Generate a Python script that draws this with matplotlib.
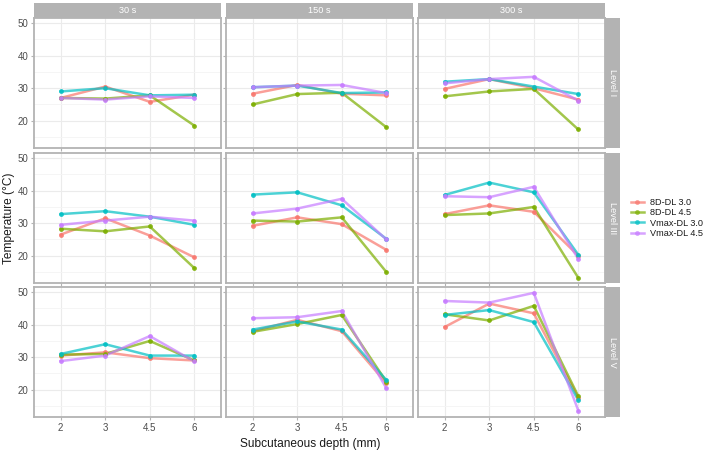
import numpy as np
import matplotlib
matplotlib.use("Agg")
import matplotlib.pyplot as plt
from matplotlib.lines import Line2D

plt.rcParams['font.family'] = ['Liberation Sans', 'DejaVu Sans']

depths = ["2", "3", "4.5", "6"]
times = ["30 s", "150 s", "300 s"]
levels = ["Level I", "Level III", "Level V"]
groups = ["8D-DL 3.0", "8D-DL 4.5", "Vmax-DL 3.0", "Vmax-DL 4.5"]
colors = ["#F8766D", "#7CAE00", "#00BFC4", "#C77CFF"]

# temperature[level][time] -> one list per group
level1_30 = [[27.0, 30.5, 25.8, 28.0], [27.0, 26.8, 27.8, 18.5], [29.0, 30.0, 27.8, 28.0], [27.0, 26.5, 27.5, 27.0]]
level1_150 = [[28.3, 31.0, 28.3, 27.8], [25.0, 28.2, 28.6, 18.0], [30.3, 30.8, 28.5, 28.7], [30.3, 30.8, 31.0, 28.5]]
level1_300 = [[29.8, 32.8, 30.0, 26.5], [27.5, 29.0, 29.8, 17.3], [32.0, 32.8, 30.5, 28.2], [31.5, 32.8, 33.5, 26.2]]
level3_30 = [[26.5, 31.5, 26.2, 19.5], [28.3, 27.5, 29.0, 16.2], [32.8, 33.7, 32.0, 29.5], [29.5, 30.8, 32.0, 30.8]]
level3_150 = [[29.2, 31.8, 29.7, 21.8], [30.8, 30.5, 31.8, 15.0], [38.8, 39.5, 35.5, 25.2], [33.0, 34.5, 37.5, 25.0]]
level3_300 = [[32.8, 35.5, 33.5, 20.0], [32.5, 33.0, 35.0, 13.2], [38.7, 42.5, 39.5, 20.3], [38.3, 38.0, 41.2, 19.0]]
level5_30 = [[30.5, 31.5, 29.7, 29.0], [30.8, 31.0, 35.0, 29.0], [31.0, 34.0, 30.5, 30.5], [28.8, 30.5, 36.5, 28.7]]
level5_150 = [[38.0, 41.5, 38.0, 22.0], [37.8, 40.2, 43.0, 22.5], [38.5, 41.0, 38.5, 23.0], [42.0, 42.3, 44.2, 20.5]]
level5_300 = [[39.3, 46.5, 43.5, 17.5], [43.2, 41.3, 45.8, 18.0], [43.0, 44.5, 40.8, 16.8], [47.3, 46.8, 49.8, 13.6]]

data = [[level1_30, level1_150, level1_300],
        [level3_30, level3_150, level3_300],
        [level5_30, level5_150, level5_300]]

W, H = 709, 454
fig = plt.figure(figsize=(W / 100, H / 100), dpi=100)

col_x = [34, 226, 418]
pw = 187
row_y = [18, 153, 287]
ph = 130
strip = 15
border = "#B3B3B3"
grid_c = "#EBEBEB"

x = np.arange(1, 5)

def box(l, t, w, h):
    return [l / W, 1 - (t + h) / H, w / W, h / H]

def strip_axes(rect, label, rot):
    sax = fig.add_axes(rect)
    sax.set_facecolor(border)
    sax.set_xticks([])
    sax.set_yticks([])
    for s in sax.spines.values():
        s.set_visible(False)
    sax.text(0.5, 0.5, label, color="white", fontsize=6.6, rotation=rot,
             ha="center", va="center", transform=sax.transAxes)

for r in range(3):
    for c in range(3):
        ax = fig.add_axes(box(col_x[c], row_y[r], pw, ph))
        for g in range(4):
            y = data[r][c][g]
            ax.plot(x, y, color=colors[g], lw=1.8, alpha=0.7, zorder=3)
            ax.scatter(x, y, color=colors[g], s=12, zorder=4, alpha=0.9, linewidths=0)
        ax.set_xlim(0.4, 4.6)
        ax.set_ylim(11.6, 51.6)
        ax.set_xticks(x)
        ax.set_yticks([20, 30, 40, 50])
        ax.set_yticks([15, 25, 35, 45], minor=True)
        ax.grid(True, which="major", color=grid_c, lw=0.8)
        ax.grid(True, which="minor", axis="y", color="#F4F4F4", lw=0.6)
        ax.set_axisbelow(True)
        for s in ax.spines.values():
            s.set_color(border)
            s.set_linewidth(1.3)
        ax.tick_params(which="both", length=2, color=border, labelsize=7,
                       labelcolor="#4D4D4D", pad=2)
        ax.tick_params(which="minor", length=0)
        if c == 0:
            ax.set_yticklabels(["20", "30", "40", "50"])
        else:
            ax.set_yticklabels([])
        if r == 2:
            ax.set_xticklabels(depths)
        else:
            ax.set_xticklabels([])
        if r == 0:
            strip_axes(box(col_x[c], 3, pw, strip), times[c], 0)
        if c == 2:
            strip_axes(box(605, row_y[r], 15, ph), levels[r], -90)

fig.text(310 / W, 1 - 444 / H, "Subcutaneous depth (mm)", ha="center", va="center",
         fontsize=8.6, color="#1A1A1A")
fig.text(9 / W, 1 - 218 / H, "Temperature (°C)", ha="center", va="center",
         rotation=90, fontsize=8.6, color="#1A1A1A")

handles = [Line2D([0], [0], color=colors[g], lw=1.8, alpha=0.7, marker="o",
                  markersize=3.5, markeredgewidth=0) for g in range(4)]
fig.legend(handles, groups, loc="center left", bbox_to_anchor=(631 / W, 1 - 218 / H),
           frameon=False, fontsize=6.6, handlelength=1.4, handletextpad=0.7,
           labelspacing=0.15, labelcolor="#1A1A1A", borderaxespad=0, borderpad=0)

fig.savefig("out.png", dpi=100)
